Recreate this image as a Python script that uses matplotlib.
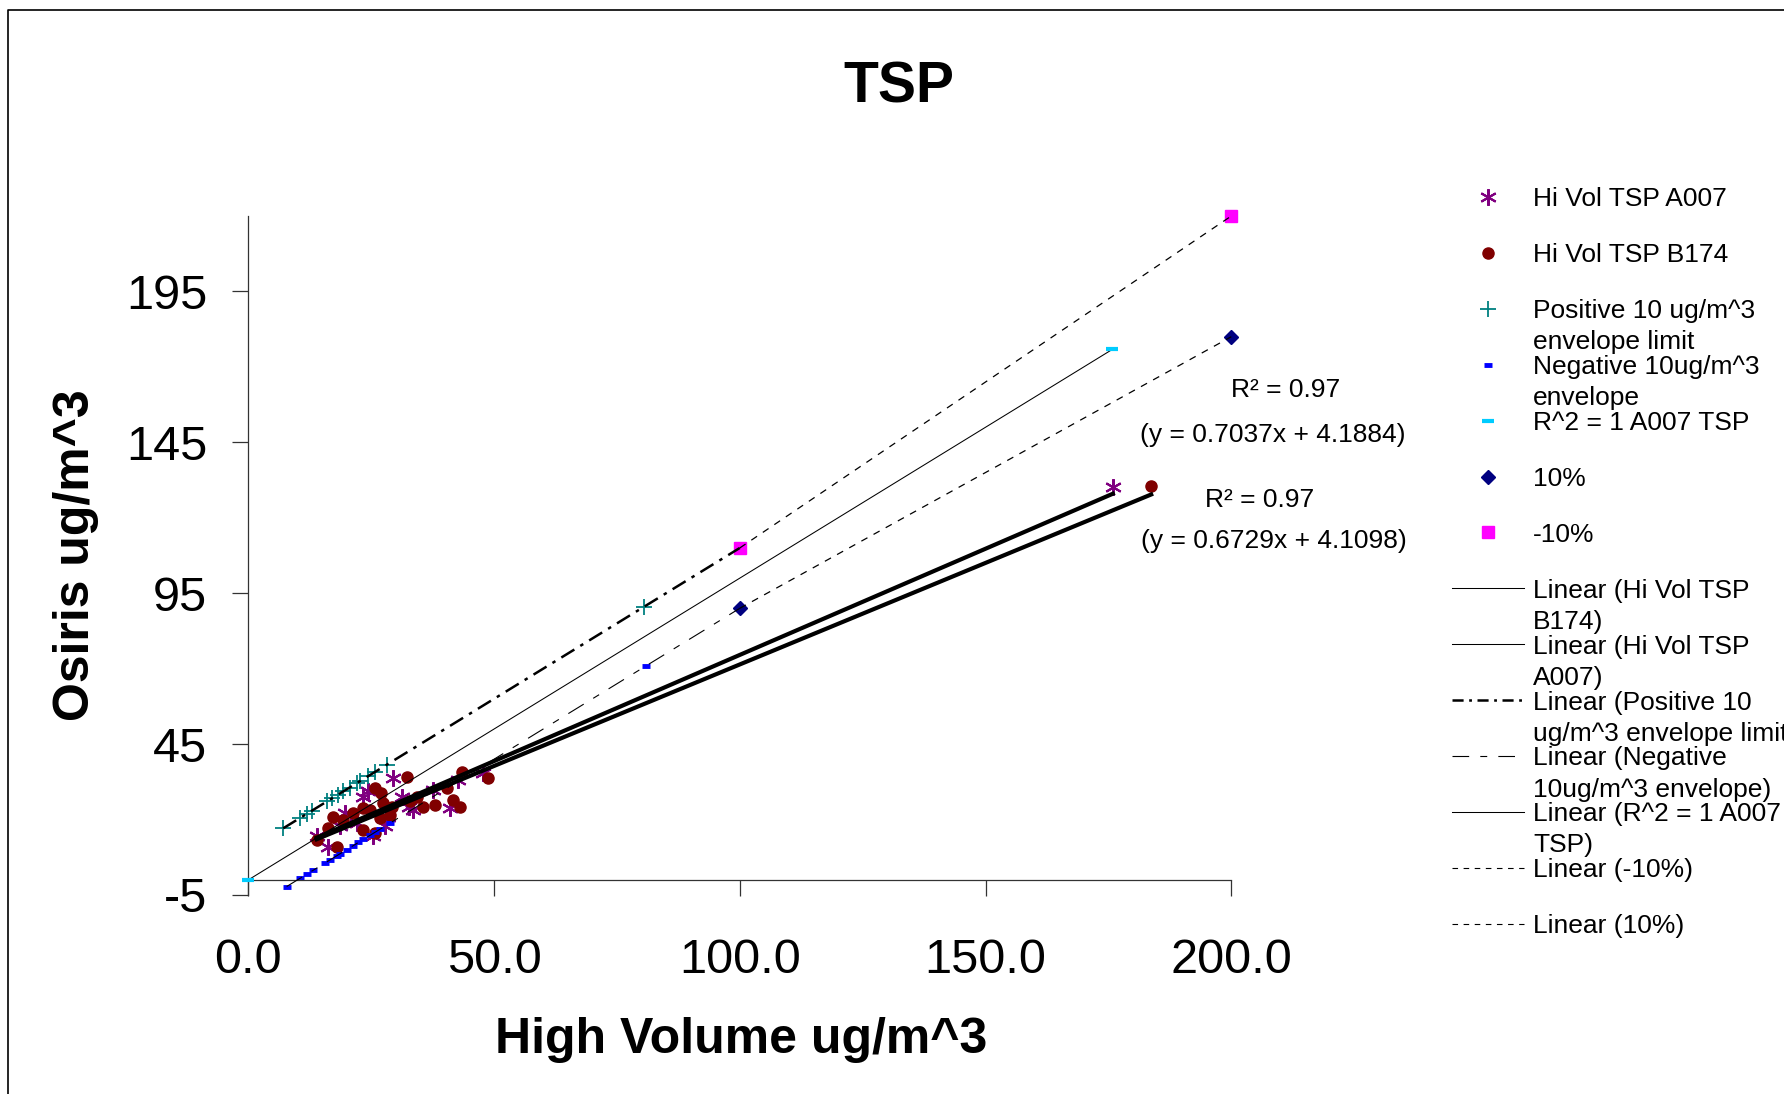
import numpy as np
import matplotlib
matplotlib.use("Agg")
import matplotlib.pyplot as plt
from matplotlib.lines import Line2D
from matplotlib.ticker import FormatStrFormatter

plt.rcParams['font.family'] = ['Liberation Sans', 'DejaVu Sans']
plt.rcParams['lines.scale_dashes'] = False
plt.rcParams['axes.unicode_minus'] = False

# Datos
a007_x = [13.9, 16.3, 18.7, 19.7, 22.1, 23.4, 24.4, 25.4, 27.8, 28.5, 29.5, 31.2, 32.6, 33.6, 37.6, 41.0, 42.7, 47.8, 175.9]
a007_y = [14.4, 11.0, 17.7, 22.1, 18.8, 27.6, 29.3, 14.4, 17.7, 20.9, 33.7, 27.6, 24.3, 23.2, 29.8, 23.8, 33.1, 35.4, 130.1]
b174_x = [13.9, 18.0, 16.3, 17.3, 23.4, 25.8, 25.8, 27.1, 32.2, 26.8, 28.8, 27.5, 23.4, 21.4, 19.3, 34.3, 35.6,
          38.0, 40.4, 41.7, 43.1, 43.4, 48.8, 32.9, 24.8, 29.2, 183.7]
b174_y = [13.3, 11.0, 17.1, 21.0, 16.6, 15.5, 30.4, 28.7, 34.2, 20.5, 21.5, 25.4, 23.8, 22.1, 19.9, 27.6, 24.3,
          24.9, 30.4, 26.5, 24.3, 35.9, 33.7, 26.0, 23.2, 24.3, 130.4]
pos_x = [7.1, 10.5, 11.9, 12.9, 16.0, 17.0, 18.3, 19.3, 20.6, 22.1, 22.7, 24.4, 25.8, 28.2, 80.5]
pos_y = [17.1, 20.5, 21.9, 22.9, 26.0, 27.0, 28.3, 29.3, 30.6, 32.1, 32.7, 34.4, 35.8, 38.2, 90.5]
neg_x = [7.8, 10.5, 11.9, 13.2, 15.6, 16.6, 18.0, 18.7, 20.0, 21.4, 22.4, 23.4, 24.8, 25.8, 26.8, 28.8, 81.0]
neg_y = [-2.2, 0.5, 1.9, 3.2, 5.6, 6.6, 8.0, 8.7, 10.0, 11.4, 12.4, 13.4, 14.8, 15.8, 16.8, 18.8, 71.0]
r2_x = [0.0, 175.8]
r2_y = [0.0, 175.8]
p10_x = [100.0, 200.0]
p10_y = [90.0, 180.0]
m10_x = [100.0, 200.0]
m10_y = [110.0, 220.0]

# Ecuaciones de las lineas de tendencia (del grafico)
a007_fit = (0.7037, 4.1884)
b174_fit = (0.6729, 4.1098)
envelope_end = 100.0

x_ticks = [0, 50, 100, 150, 200]
y_ticks = [-5, 45, 95, 145, 195]

W, H = 1784, 1094
fig = plt.figure(figsize=(W / 100, H / 100), dpi=100)
ax = fig.add_axes([248.3 / W, 1 - 895 / H, 983 / W, 679 / H])
ax.set_xlim(0, 200)
ax.set_ylim(-5, 220)

estilos = {
    'a007': dict(marker=(6, 2, 0), ms=12, mew=1.5, color='#800080'),
    'b174': dict(marker='o', ms=8, color='#800000'),
    'pos': dict(marker='+', ms=12, mew=1.3, color='#008080'),
    'neg': dict(marker='_', ms=5.5, mew=3.5, color='#0000FF'),
    'r2': dict(marker='_', ms=9, mew=3, color='#00CCFF'),
    'p10': dict(marker='D', ms=7.5, color='#000080'),
    'm10': dict(marker='s', ms=8.5, color='#FF00FF'),
}

# puntos
ax.plot(a007_x, a007_y, ls='none', clip_on=False, zorder=2, **estilos['a007'])
ax.plot(b174_x, b174_y, ls='none', clip_on=False, zorder=2, **estilos['b174'])
ax.plot(pos_x, pos_y, ls='none', clip_on=False, zorder=2, **estilos['pos'])
ax.plot(neg_x, neg_y, ls='none', clip_on=False, zorder=2, **estilos['neg'])
ax.plot(r2_x, r2_y, ls='none', clip_on=False, zorder=4, **estilos['r2'])
ax.plot(p10_x, p10_y, ls='none', clip_on=False, zorder=2, **estilos['p10'])
ax.plot(m10_x, m10_y, ls='none', clip_on=False, zorder=2, **estilos['m10'])

# lineas de tendencia
def tendencia(xs, ys, x_end=None, **kw):
    m, b = np.polyfit(xs, ys, 1)
    x_end = max(xs) if x_end is None else x_end
    xx = np.array([min(xs), x_end])
    ax.plot(xx, m * xx + b, clip_on=False, zorder=3, **kw)

for xs, (m, b) in [(a007_x, a007_fit), (b174_x, b174_fit)]:
    xx = np.array([min(xs), max(xs)])
    ax.plot(xx, m * xx + b, color='black', lw=3.0, zorder=3, clip_on=False)

tendencia(pos_x, pos_y, envelope_end, color='black', lw=1.8, ls=(0, (11, 5, 2.5, 5)))
tendencia(neg_x, neg_y, envelope_end, color='black', lw=0.8, ls=(0, (13, 8, 5, 8)))
tendencia(r2_x, r2_y, color='black', lw=0.75)
tendencia(m10_x, m10_y, color='black', lw=0.9, ls=(0, (5, 5)))
tendencia(p10_x, p10_y, color='black', lw=0.9, ls=(0, (5, 5)))

# ejes
for s in ['top', 'right']:
    ax.spines[s].set_visible(False)
ax.spines['bottom'].set_position(('data', 0))
for s in ['bottom', 'left']:
    ax.spines[s].set_color('#333333')
    ax.spines[s].set_linewidth(0.9)
ax.set_xticks(x_ticks)
ax.set_yticks(y_ticks)
ax.xaxis.set_major_formatter(FormatStrFormatter('%.1f'))
ax.tick_params(direction='out', length=11.5, width=0.9, color='#333333', labelsize=35)
ax.tick_params(axis='x', pad=30)
ax.tick_params(axis='y', pad=18)

ax.set_xlabel('High Volume ug/m^3', fontsize=36, fontweight='bold', va='baseline')
ax.xaxis.set_label_coords((741 - 248.3) / 983, (895 - 1053) / 679)
ax.set_ylabel('Osiris ug/m^3', fontsize=36, fontweight='bold', va='baseline', ha='center',
              rotation_mode='anchor')
ax.yaxis.set_label_coords((89 - 248.3) / 983, (895 - 555) / 679)

fig.suptitle('TSP', x=899 / W, y=1 - 102.7 / H, va='baseline', fontsize=41, fontweight='bold')

# ecuaciones
fig.text(1286 / W, 1 - 397 / H, 'R² = 0.97', ha='center', va='baseline', fontsize=19)
fig.text(1273 / W, 1 - 442 / H, '(y = 0.7037x + 4.1884)', ha='center', va='baseline', fontsize=19)
fig.text(1260 / W, 1 - 507 / H, 'R² = 0.97', ha='center', va='baseline', fontsize=19)
fig.text(1274 / W, 1 - 548 / H, '(y = 0.6729x + 4.1098)', ha='center', va='baseline', fontsize=19)

# leyenda hecha a mano (texto con saltos de linea como en el original)
lax = fig.add_axes([0, 0, 1, 1])
lax.set_xlim(0, W)
lax.set_ylim(H, 0)
lax.axis('off')

entradas = [
    ('Hi Vol TSP A007', estilos['a007']),
    ('Hi Vol TSP B174', estilos['b174']),
    ('Positive 10 ug/m^3\nenvelope limit', estilos['pos']),
    ('Negative 10ug/m^3\nenvelope', estilos['neg']),
    ('R^2 = 1 A007 TSP', estilos['r2']),
    ('10%', estilos['p10']),
    ('-10%', estilos['m10']),
    ('Linear (Hi Vol TSP\nB174)', dict(lw=0.75, color='black')),
    ('Linear (Hi Vol TSP\nA007)', dict(lw=0.75, color='black')),
    ('Linear (Positive 10\nug/m^3 envelope limit)', dict(lw=1.8, color='black', ls=(0, (8, 4, 2, 4)))),
    ('Linear (Negative\n10ug/m^3 envelope)', dict(lw=0.8, color='black', ls=(0, (12, 8, 5, 8)))),
    ('Linear (R^2 = 1 A007\nTSP)', dict(lw=0.75, color='black')),
    ('Linear (-10%)', dict(lw=0.8, color='black', ls=(0, (4, 4)))),
    ('Linear (10%)', dict(lw=0.8, color='black', ls=(0, (4, 4)))),
]
y0, dy, salto = 197, 55.9, 31
for i, (label, st) in enumerate(entradas):
    y = y0 + i * dy
    if 'marker' in st:
        lax.plot([1488], [y], ls='none', **st)
    else:
        lax.plot([1452, 1524], [y, y], **st)
    for k, linea in enumerate(label.split('\n')):
        lax.text(1533, y + k * salto, linea, va='center_baseline', ha='left', fontsize=19)

# marco de la figura
fig.add_artist(Line2D([8 / W, 8 / W, 1], [0, 1 - 9.5 / H, 1 - 9.5 / H], transform=fig.transFigure,
                      color='black', lw=1.2))

fig.savefig('out.png', dpi=100)
